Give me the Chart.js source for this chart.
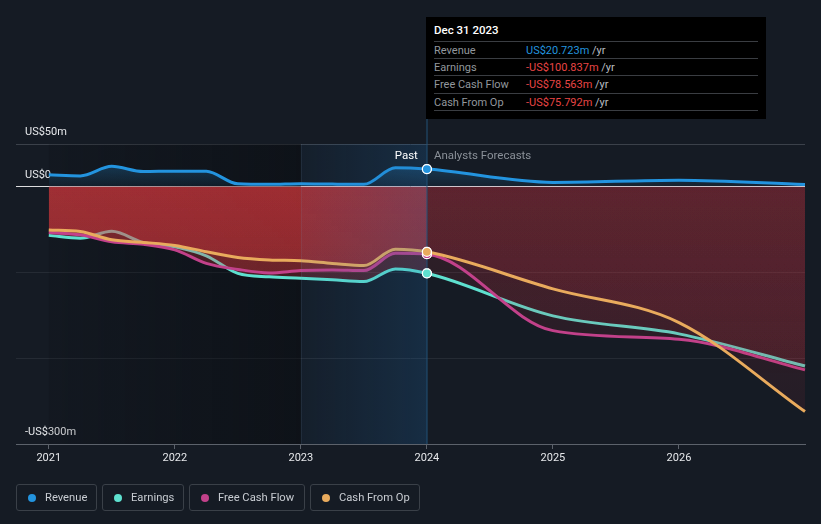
<!DOCTYPE html>
<html><head><meta charset="utf-8">
<script src="https://cdn.jsdelivr.net/npm/chart.js@4/dist/chart.umd.min.js"></script>
<style>
html,body{margin:0;padding:0;background:#151b24;}
#wrap{position:relative;width:821px;height:524px;overflow:hidden;font-family:Roboto,'Noto Sans',sans-serif;}
#c{position:absolute;left:0;top:0;}
#tip{position:absolute;left:426px;top:17px;width:340px;height:102px;background:#000;box-sizing:border-box;padding:0 8px;}
#tip .t{height:24.7px;line-height:27px;color:#fff;font-size:11.5px;font-weight:500;border-bottom:1px solid #3a3d42;box-sizing:border-box}
#tip .r{height:17.4px;line-height:17px;font-size:11px;border-bottom:1px solid #3a3d42;box-sizing:border-box;position:relative;white-space:nowrap}
#tip .l{position:absolute;left:0;color:#92979d}
#tip .v{position:absolute;left:92px}
#tip .u{color:#b9bdc2}
#legend{position:absolute;left:16px;top:484px;display:flex;gap:5px}
.li{height:27px;box-sizing:border-box;border:1px solid #3a4048;border-radius:3px;display:flex;align-items:center;padding:0 0 0 11px;color:#c8ccd2;font-size:11.2px}
.dot{width:8px;height:8px;border-radius:50%;margin-right:9px}
</style></head>
<body>
<div id="wrap">
<canvas id="c" width="821" height="524"></canvas>
<div id="tip"></div>
<div id="legend"></div>
</div>
<script>
// ---- data ----
const dates = [2021, 2021.25, 2021.5, 2021.75, 2022, 2022.25, 2022.5, 2022.75, 2023, 2023.25, 2023.5, 2023.75, 2024, 2025, 2026, 2027];
const revenue  = [14, 12.8, 23.9, 17.9, 18.3, 18.1, 3.5, 2.9, 3.7, 3.2, 2.9, 22.2, 20.723, 5.2, 7.8, 2.7];
const earnings = [-56.6, -59.9, -51.9, -65.0, -70, -80.5, -101, -105, -106.5, -108.5, -110.5, -95.7, -100.837, -150.5, -171.5, -209];
const freeCashFlow = [-53.3, -56, -64.2, -67, -73.5, -89.3, -96.3, -100.4, -97.7, -96.9, -97.7, -77.6, -78.563, -167.7, -177.7, -213.5];
const cashFromOp = [-50.2, -52, -61.8, -64.8, -68.3, -75.8, -82.3, -85.2, -86.3, -89.3, -91.8, -72.7, -75.792, -119, -158.3, -262.2];
const seriesNames = ['Revenue', 'Earnings', 'Free Cash Flow', 'Cash From Op'];
const xTickValues = [2021, 2022, 2023, 2024, 2025, 2026];
const xTickLabels = ['2021', '2022', '2023', '2024', '2025', '2026'];
const yTickValues = [50, 0, -100, -200, -300];
const yTickLabels = ['US$50m', 'US$0', '', '', '-US$300m'];
const tooltipTitle = 'Dec 31 2023';
const markerDate = 2024;
const bandStart = 2023;
const pastStart = 2021;

// ---- styles ----
const colors = ['#2394df', '#5ee0cf', '#c2418a', '#e9ab5d'];
const xMin = 2020.74, xMax = 2027;

function pts(arr){ return dates.map((d,i)=>({x:d, y:arr[i]})); }

let patCache = null;
function redPattern(chart){
  const a = chart.chartArea;
  if(!a || !chart.scales.x) return 'rgba(0,0,0,0)';
  const key = [a.left,a.right,a.top,a.bottom].join(',');
  if(patCache && patCache.key === key) return patCache.p;
  const cv = document.createElement('canvas'); cv.width = chart.width; cv.height = chart.height;
  const c = cv.getContext('2d');
  const xm = chart.scales.x.getPixelForValue(markerDate);
  const y0 = chart.scales.y.getPixelForValue(0), yb = a.bottom;
  let g = c.createLinearGradient(0,y0,0,yb);
  g.addColorStop(0,'rgba(228,58,62,0.31)'); g.addColorStop(0.35,'rgba(228,58,62,0.25)'); g.addColorStop(1,'rgba(228,58,62,0.16)');
  c.fillStyle = g; c.fillRect(a.left,0,xm-a.left,cv.height);
  g = c.createLinearGradient(0,y0,0,yb);
  g.addColorStop(0,'rgba(190,48,62,0.17)'); g.addColorStop(1,'rgba(190,48,62,0.09)');
  c.fillStyle = g; c.fillRect(xm,0,a.right-xm+2,cv.height);
  const p = chart.ctx.createPattern(cv,'no-repeat');
  patCache = {key, p};
  return p;
}
function blueGrad(chart){
  const a = chart.chartArea;
  if(!a || !chart.scales.y) return 'rgba(0,0,0,0)';
  const y1 = chart.scales.y.getPixelForValue(30), y0 = chart.scales.y.getPixelForValue(0);
  const g = chart.ctx.createLinearGradient(0,y1,0,y0);
  g.addColorStop(0,'rgba(35,148,223,0.30)'); g.addColorStop(1,'rgba(35,148,223,0.06)');
  return g;
}

const bgPlugin = {
  id:'bgp',
  beforeDatasetsDraw(chart){
    const {ctx, chartArea:a, scales:{x}} = chart;
    const x0 = x.getPixelForValue(pastStart), x1 = x.getPixelForValue(bandStart);
    ctx.save();
    const g = ctx.createLinearGradient(x0,0,x1,0);
    g.addColorStop(0,'rgba(6,8,11,0.12)'); g.addColorStop(1,'rgba(6,8,11,0.45)');
    ctx.fillStyle = g; ctx.fillRect(x0,a.top,x1-x0,a.bottom-a.top);
    ctx.restore();
  },
  afterDatasetsDraw(chart){
    const {ctx, chartArea:a, scales:{x}} = chart;
    const x1 = x.getPixelForValue(bandStart), x2 = x.getPixelForValue(markerDate);
    ctx.save();
    const g = ctx.createLinearGradient(x1,0,x2,0);
    g.addColorStop(0,'rgba(30,110,180,0.05)'); g.addColorStop(1,'rgba(30,110,180,0.22)');
    ctx.fillStyle = g; ctx.fillRect(x1,a.top,x2-x1,a.bottom-a.top);
    ctx.fillStyle = 'rgba(120,150,180,0.12)'; ctx.fillRect(Math.round(x1),a.top,1,a.bottom-a.top);
    ctx.fillStyle = 'rgba(35,85,125,0.95)'; ctx.fillRect(Math.round(x2)-0.5,119,1,a.bottom-119);
    ctx.font = '11.5px Roboto, sans-serif'; ctx.textBaseline = 'middle';
    ctx.textAlign = 'right'; ctx.fillStyle = '#ffffff'; ctx.fillText('Past', x2-9, 156);
    ctx.textAlign = 'left'; ctx.fillStyle = '#8a9098'; ctx.fillText('Analysts Forecasts', x2+7, 156);
    ctx.restore();
  },
  afterDraw(chart){
    const {ctx} = chart;
    chart.getSortedVisibleDatasetMetas().slice().reverse().forEach(meta=>{
      meta.data.forEach((el)=>{ if(el.options.radius>0) el.draw(ctx, chart.chartArea); });
    });
  }
};

const seriesData = [revenue, earnings, freeCashFlow, cashFromOp];
const orders = [0, 3, 2, 1];
const datasets = seriesData.map((arr,i)=>({
  label: seriesNames[i],
  data: pts(arr),
  borderColor: colors[i],
  borderWidth: 3,
  cubicInterpolationMode: 'monotone',
  fill: 'origin',
  backgroundColor: i===0 ? (c)=>blueGrad(c.chart) : (c)=>redPattern(c.chart),
  order: orders[i],
  pointRadius: (c)=> (c.raw && c.raw.x===markerDate) ? 4.5 : 0,
  pointBackgroundColor: colors[i],
  pointBorderColor: '#ffffff',
  pointBorderWidth: 1.2,
  clip: false
}));

new Chart(document.getElementById('c'), {
  type:'line',
  data:{datasets},
  plugins:[bgPlugin],
  options:{
    responsive:false, animation:false, events:[],
    layout:{padding:{left:16,right:16,top:144,bottom:50}},
    plugins:{legend:{display:false}, tooltip:{enabled:false}},
    scales:{
      x:{type:'linear', min:xMin, max:xMax,
        afterBuildTicks:(s)=>{ s.ticks = xTickValues.map(v=>({value:v})); },
        afterFit:(s)=>{ s.height = 30; },
        border:{display:true, color:'#5c626b', width:1},
        grid:{display:true, drawOnChartArea:false, drawTicks:true, tickLength:5, color:'#5c626b'},
        ticks:{color:'#e6e8eb', font:{family:'Roboto', size:11}, padding:3, maxRotation:0, autoSkip:false,
          callback:(v)=> xTickLabels[xTickValues.indexOf(v)] }
      },
      y:{type:'linear', min:-300, max:50,
        afterBuildTicks:(s)=>{ s.ticks = yTickValues.map(v=>({value:v})); },
        afterFit:(s)=>{ s.width = 0; },
        border:{display:false},
        grid:{drawTicks:false,
          color:(c)=>{ const v=c.tick && c.tick.value; if(v===0) return 'rgba(255,255,255,0.85)'; if(v===50) return '#3b414a'; if(v===-300) return '#5c626b'; return '#252b34'; }},
        ticks:{mirror:true, padding:9, labelOffset:-12, color:'#e6e8eb', font:{family:'Roboto', size:11},
          callback:(v)=> yTickLabels[yTickValues.indexOf(v)] }
      }
    }
  }
});

// tooltip box
function fmt(v){ return (v<0?'-':'') + 'US$' + Math.abs(v).toFixed(3) + 'm'; }
const mi = dates.indexOf(markerDate);
let html = '<div class="t">'+tooltipTitle+'</div>';
seriesData.forEach((arr,i)=>{
  const v = arr[mi];
  const col = v<0 ? '#e84545' : '#2394df';
  html += '<div class="r"><span class="l">'+seriesNames[i]+'</span><span class="v"><span style="color:'+col+'">'+fmt(v)+'</span><span class="u"> /yr</span></span></div>';
});
document.getElementById('tip').innerHTML = html;

// legend
const legendWidths = [81, 82, 116, 110];
document.getElementById('legend').innerHTML = seriesNames.map((n,i)=>
  '<div class="li" style="width:'+legendWidths[i]+'px"><span class="dot" style="background:'+colors[i]+'"></span>'+n+'</div>').join('');
</script>
</body></html>
